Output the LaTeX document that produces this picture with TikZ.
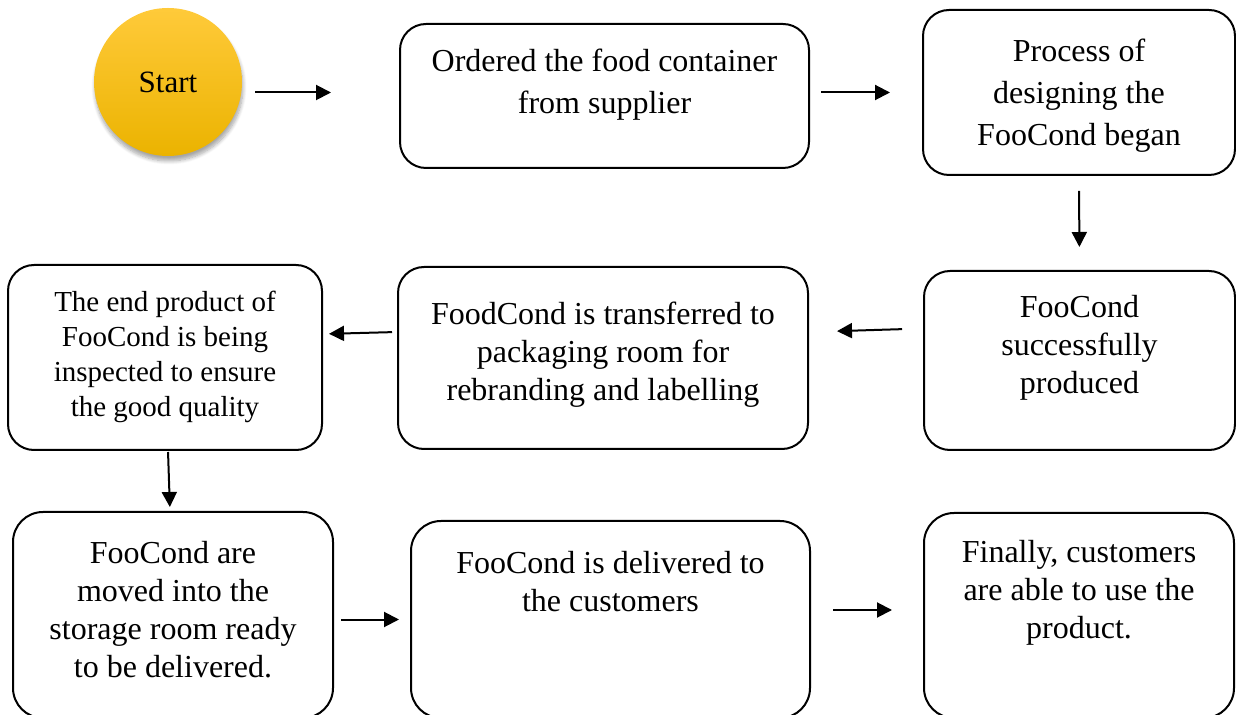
\documentclass[tikz,border=0pt]{standalone}
\usepackage{fontspec}
\setmainfont{Liberation Serif}
\usetikzlibrary{arrows.meta,shadows.blur}
\definecolor{startTop}{HTML}{FFCA3A}
\definecolor{startMid}{HTML}{FFC300}
\definecolor{startBot}{HTML}{EBB300}
\tikzset{
  flowbox/.style={draw, line width=1pt, rounded corners=13pt, inner sep=0pt},
  boxtext/.style={anchor=north, inner sep=0pt, align=center, font=\fontsize{16pt}{19pt}\selectfont},
  flowarrow/.style={line width=1pt, -{Triangle[length=7.5pt,width=7.5pt]}},
}
\begin{document}
\begin{tikzpicture}[x=0.5pt,y=-0.5pt]
  \useasboundingbox (0,0) rectangle (1236,715);
  % Start
  \node[circle, minimum size=74pt, inner sep=0pt, top color=startTop, middle color=startMid, bottom color=startBot,
        blur shadow={shadow xshift=0.5pt, shadow yshift=-2.5pt, shadow blur steps=8, shadow opacity=35},
        font=\fontsize{15.5pt}{18pt}\selectfont] (start) at (168,82) {Start};
  % Row 1
  \node[flowbox, minimum width=204.5pt, minimum height=72pt] (order) at (604.5,96) {};
  \node[boxtext, font=\fontsize{16pt}{21pt}\selectfont, yshift=-13pt] (order-txt) at (order.north)
    {Ordered the food container\\from supplier};
  \node[flowbox, minimum width=156pt, minimum height=82.5pt] (design) at (1079,92.5) {};
  \node[boxtext, font=\fontsize{16pt}{21pt}\selectfont, yshift=-15pt] (design-txt) at (design.north)
    {Process of\\designing the\\FooCond began};
  % Row 2
  \node[flowbox, minimum width=155.5pt, minimum height=89.5pt] (produced) at (1079.5,360.5) {};
  \node[boxtext, yshift=-12.5pt] (produced-txt) at (produced.north)
    {FooCond\\successfully\\produced};
  \node[flowbox, minimum width=205pt, minimum height=91pt] (packing) at (603,358) {};
  \node[boxtext, yshift=-18pt] (packing-txt) at (packing.north)
    {FoodCond is transferred to\\packaging room for\\rebranding and labelling};
  \node[flowbox, minimum width=157pt, minimum height=92.5pt] (inspect) at (165,357.5) {};
  \node[boxtext, font=\fontsize{14.5pt}{17.5pt}\selectfont, yshift=-13.5pt] (inspect-txt) at (inspect.north)
    {The end product of\\FooCond is being\\inspected to ensure\\the good quality};
  % Row 3
  \node[flowbox, rounded corners=15pt, minimum width=160pt, minimum height=103pt] (storage) at (173,615) {};
  \node[boxtext, yshift=-15pt] (storage-txt) at (storage.north)
    {FooCond are\\moved into the\\storage room ready\\to be delivered.};
  \node[flowbox, rounded corners=15pt, minimum width=199.5pt, minimum height=98.5pt] (deliver) at (610.5,619.5) {};
  \node[boxtext, yshift=-15.5pt] (deliver-txt) at (deliver.north)
    {FooCond is delivered to\\the customers};
  \node[flowbox, rounded corners=15pt, minimum width=155pt, minimum height=102.5pt] (final) at (1079,615.5) {};
  \node[boxtext, yshift=-14pt] (final-txt) at (final.north)
    {Finally, customers\\are able to use the\\product.};
  % Arrows
  \draw[flowarrow, shorten <=6.5pt, shorten >=34pt] (start.east |- design.west) -- (order.west |- design.west);
  \draw[flowarrow, shorten <=5.5pt, shorten >=16pt] (order.east |- design.west) -- (design.west);
  \draw[flowarrow, shorten <=7.5pt, shorten >=11.5pt] (design.south) -- (produced.north);
  \draw[flowarrow, shorten <=10.5pt, shorten >=14pt] ([yshift=16pt]produced.west) -- ([yshift=13pt]packing.east);
  \draw[flowarrow, shorten <=2.5pt, shorten >=3pt] ([yshift=13pt]packing.west) -- ([yshift=11.75pt]inspect.east);
  \draw[flowarrow, shorten <=0.5pt, shorten >=2pt] ([xshift=1.5pt]inspect.south) -- ([xshift=-1.5pt]storage.north);
  \draw[flowarrow, shorten <=3.5pt, shorten >=5.5pt] (storage.east |- deliver.west) -- (deliver.west);
  \draw[flowarrow, shorten <=11pt, shorten >=15.5pt] ([yshift=4.75pt]deliver.east) -- ([yshift=2.75pt]final.west);
\end{tikzpicture}
\end{document}
